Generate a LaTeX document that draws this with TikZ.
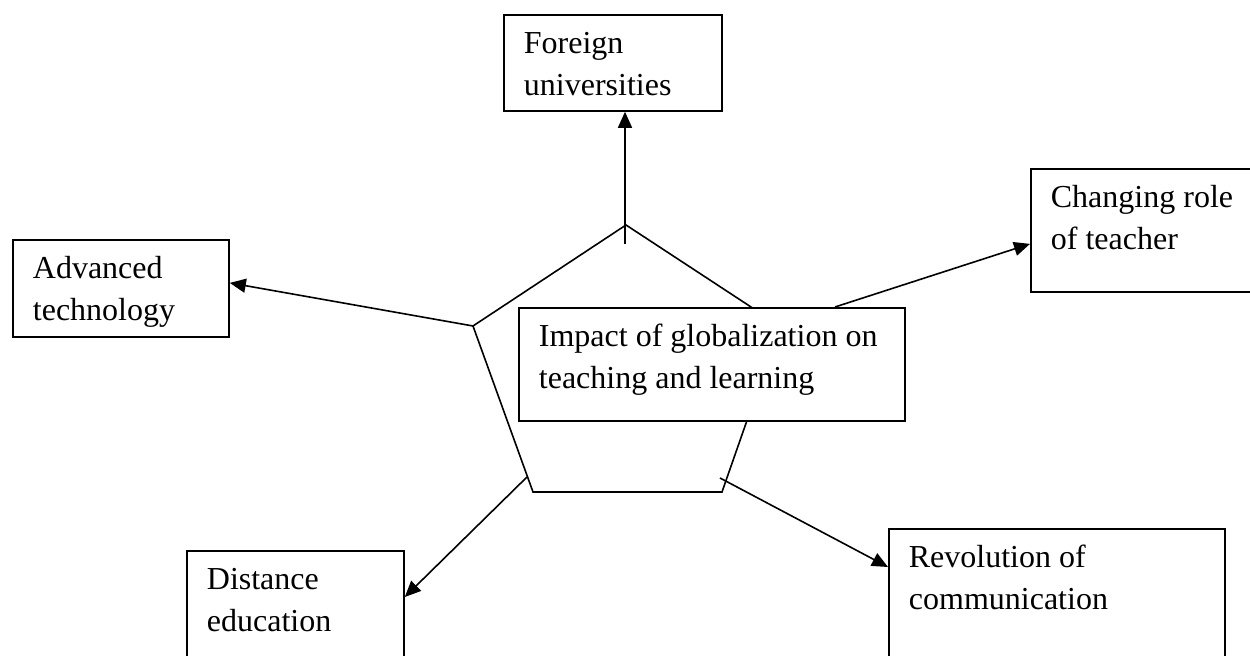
\documentclass[tikz,border=0pt]{standalone}
\usepackage{fontspec}
\setmainfont{Liberation Serif}
\usepackage{tikz}
\usetikzlibrary{arrows.meta}

\tikzset{
	topic/.style={draw,line width=0.9pt,fill=white,anchor=north west,align=flush left,inner xsep=10pt,inner ysep=8.5pt,text height=11pt,font=\fontsize{16}{21}\selectfont},
	link/.style={line width=0.8pt,-{Triangle[length=8pt,width=7pt]}}
}

\begin{document}
\begin{tikzpicture}[x=0.5pt,y=-0.5pt]
			\clip (0,0) rectangle (1250,656);
			\coordinate (top) at (626,225);
			\coordinate (ur) at (780,326);
			\coordinate (lr) at (722,492);
			\coordinate (ll) at (533,492);
			\coordinate (ul) at (473,326);
			\draw[line width=0.8pt] (top) -- (ur) -- (lr) -- (ll) -- (ul) -- cycle;
			\node[topic,text width=173pt,text depth=28.5pt] (impact) at (518,307) {Impact of globalization on\\teaching and learning};
			\node[topic,text width=89pt,text depth=20pt] (foreign) at (503,14) {Foreign\\universities};
			\node[topic,text width=88pt,text depth=20.5pt] (advanced) at (12,239) {Advanced\\technology};
			\node[topic,text width=100pt,text depth=33.5pt] (changing) at (1030,168) {Changing role\\of teacher};
			\node[topic,text width=88.5pt,text depth=47pt] (distance) at (186,550) {Distance\\education};
			\node[topic,text width=148pt,text depth=58pt] (revolution) at (888,528) {Revolution of\\communication};
			\coordinate (ustart) at (625,244);
			\coordinate (cstart) at (835,307);
			\coordinate (dstart) at (527,477);
			\coordinate (rstart) at (720,478);
			\draw[link] (ustart) -- (ustart |- foreign.south);
			\draw[link] (ul) -- ([yshift=2.75pt]advanced.east);
			\draw[link] (cstart) -- ([yshift=-6.75pt]changing.west);
			\draw[link] (dstart) -- ([yshift=-23.5pt]distance.north east);
			\draw[link] (rstart) -- ([yshift=-19.5pt]revolution.north west);
\end{tikzpicture}
\end{document}
